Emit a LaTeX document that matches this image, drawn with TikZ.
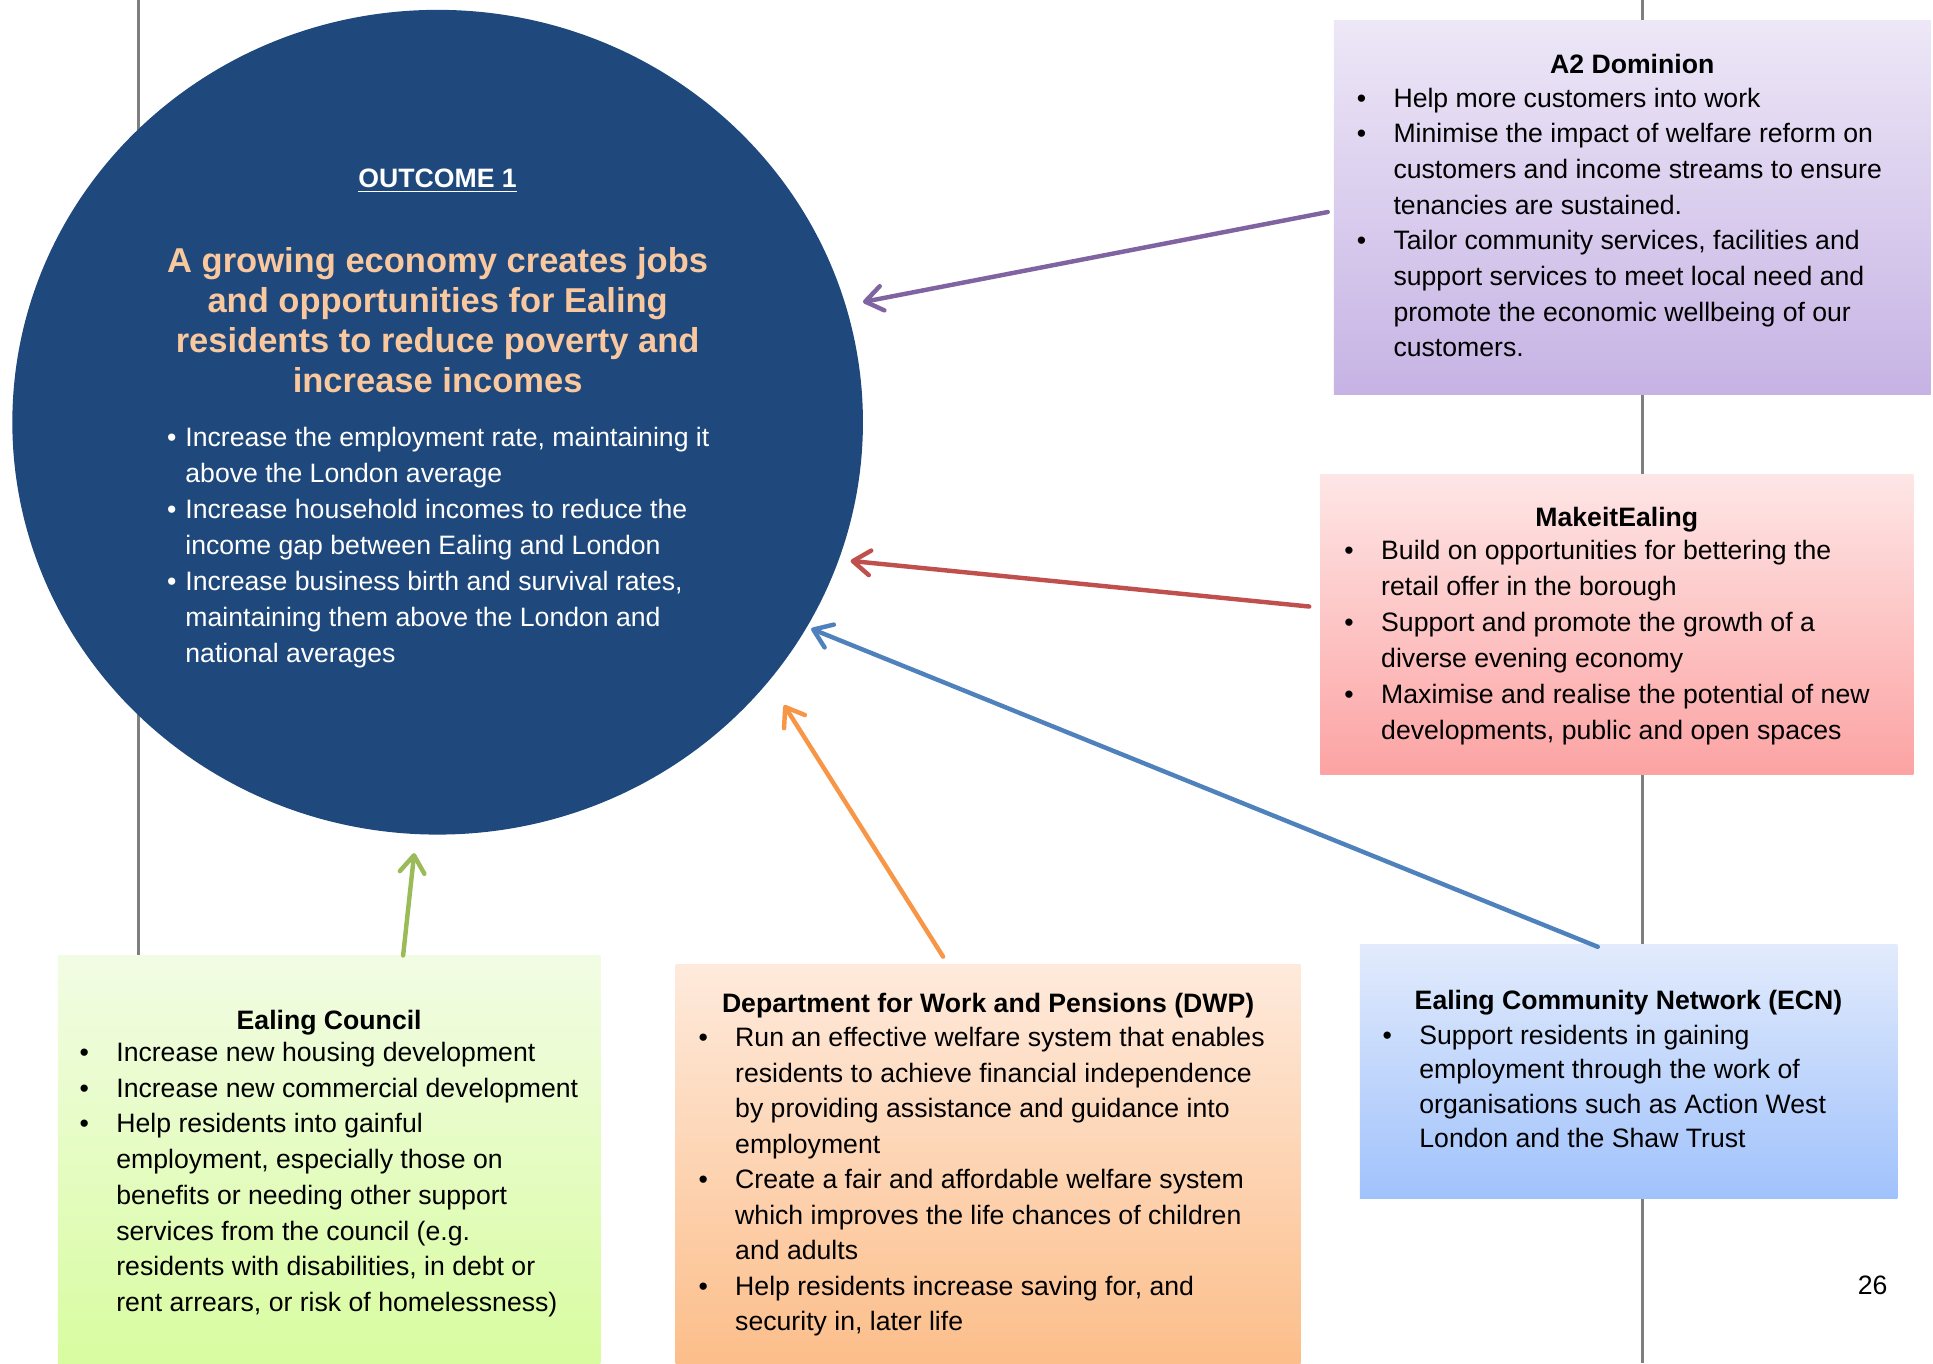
\documentclass[tikz,border=0pt]{standalone}
\usepackage{fontspec}
\setmainfont{Liberation Sans}
\usetikzlibrary{arrows.meta,shapes.geometric,fit}

\definecolor{circblue}{RGB}{31,73,125}
\definecolor{peach}{RGB}{250,200,158}
\definecolor{pagegray}{RGB}{127,127,127}
\definecolor{apurple}{RGB}{128,100,162}
\definecolor{ared}{RGB}{192,80,77}
\definecolor{ablue}{RGB}{79,129,189}
\definecolor{aorange}{RGB}{247,150,70}
\definecolor{agreen}{RGB}{155,187,89}
\definecolor{a2top}{RGB}{237,231,247}
\definecolor{a2bot}{RGB}{198,179,228}
\definecolor{mktop}{RGB}{254,230,230}
\definecolor{mkbot}{RGB}{252,163,163}
\definecolor{ectop}{RGB}{242,252,228}
\definecolor{ecbot}{RGB}{216,252,160}
\definecolor{dwtop}{RGB}{254,234,220}
\definecolor{dwbot}{RGB}{252,190,138}
\definecolor{cntop}{RGB}{226,235,252}
\definecolor{cnbot}{RGB}{160,194,252}

\newlength\hangw
\newcommand\bi[1]{\par\hangindent=\hangw\hangafter=1\noindent\makebox[\hangw][l]{\textbullet}#1}
% #1 hang indent, #2 baselineskip, #3 content
\newcommand\blist[3]{\vtop{\hsize=400pt\parindent=0pt\parskip=0pt\hangw=#1\fontsize{10.8pt}{#2}\selectfont #3}}

\tikzset{
  orgbox/.style={draw=none, inner sep=0pt, shading=axis},
  ttl/.style={anchor=base, inner sep=0pt, font=\fontsize{10.8pt}{13pt}\selectfont\bfseries},
  body/.style={anchor=base west, inner sep=0pt},
  arr/.style={line width=1.8pt, line cap=round, -{Straight Barb[length=7pt,width=10pt,round]}},
  pageline/.style={draw=pagegray, line width=1.2pt}
}

\begin{document}
\begin{tikzpicture}[x=0.5pt,y=-0.5pt]
\useasboundingbox (0,0) rectangle (1568,1106);

% page margin lines
\coordinate (lt) at (112.3,0);
\coordinate (lb) at (112.3,1106);
\coordinate (rt) at (1332.5,0);
\coordinate (rb) at (1332.5,1106);
\draw[pageline] (lt) -- (lb);
\draw[pageline] (rt) -- (rb);

% central outcome
\node[ellipse, fill=circblue, draw=none, inner sep=0pt, minimum width=345pt, minimum height=334.5pt] (outcome) at (355,342.5) {};
\node[ttl, text=white] (otitle) at (355,152) {\underline{OUTCOME 1}};
\node[anchor=base, inner sep=0pt, text=peach] (ohead) at (355,221)
  {\vtop{\hsize=300pt\parskip=0pt\parindent=0pt\centering\fontsize{14pt}{16.2pt}\selectfont\bfseries
  A growing economy creates jobs\\and opportunities for Ealing\\residents to reduce poverty and\\increase incomes}};
\node[body, text=white] (obody) at (135.2,362) {\blist{7.4pt}{14.6pt}{%
  \bi{Increase the employment rate, maintaining it\newline above the London average}
  \bi{Increase household incomes to reduce the\newline income gap between Ealing and London}
  \bi{Increase business birth and survival rates,\newline maintaining them above the London and\newline national averages}}};

% A2 Dominion
\node[orgbox, top color=a2top, bottom color=a2bot, fit={(1082,17) (1566,320)}] (a2) {};
\node[ttl] (a2t) at (1324,60) {A2 Dominion};
\node[body] (a2b) at (1100.2,87) {\blist{14.9pt}{14.45pt}{%
  \bi{Help more customers into work}
  \bi{Minimise the impact of welfare reform on\newline customers and income streams to ensure\newline tenancies are sustained.}
  \bi{Tailor community services, facilities and\newline support services to meet local need and\newline promote the economic wellbeing of our\newline customers.}}};

% MakeitEaling
\node[orgbox, top color=mktop, bottom color=mkbot, fit={(1071,385) (1552,628)}] (mk) {};
\node[ttl] (mkt) at (1311.5,427) {MakeitEaling};
\node[body] (mkb) at (1090.2,453.5) {\blist{14.9pt}{14.6pt}{%
  \bi{Build on opportunities for bettering the\newline retail offer in the borough}
  \bi{Support and promote the growth of a\newline diverse evening economy}
  \bi{Maximise and realise the potential of new\newline developments, public and open spaces}}};

% Ealing Community Network
\node[orgbox, top color=cntop, bottom color=cnbot, fit={(1103,766) (1539,972)}] (ecn) {};
\node[ttl] (ecnt) at (1321,819) {Ealing Community Network (ECN)};
\node[body] (ecnb) at (1121.2,847) {\blist{14.9pt}{14pt}{%
  \bi{Support residents in gaining\newline employment through the work of\newline organisations such as Action West\newline London and the Shaw Trust}}};

% Ealing Council
\node[orgbox, top color=ectop, bottom color=ecbot, fit={(47,775) (487,1106)}] (ec) {};
\node[ttl] (ect) at (267,835) {Ealing Council};
\node[body] (ecb) at (64.2,861) {\blist{14.9pt}{14.5pt}{%
  \bi{Increase new housing development}
  \bi{Increase new commercial development}
  \bi{Help residents into gainful\newline employment, especially those on\newline benefits or needing other support\newline services from the council (e.g.\newline residents with disabilities, in debt or\newline rent arrears, or risk of homelessness)}}};

% DWP
\node[orgbox, top color=dwtop, bottom color=dwbot, fit={(548,782) (1055,1106)}] (dwp) {};
\node[ttl] (dwpt) at (801.5,821) {Department for Work and Pensions (DWP)};
\node[body] (dwpb) at (566.2,849) {\blist{14.9pt}{14.4pt}{%
  \bi{Run an effective welfare system that enables\newline residents to achieve financial independence\newline by providing assistance and guidance into\newline employment}
  \bi{Create a fair and affordable welfare system\newline which improves the life chances of children\newline and adults}
  \bi{Help residents increase saving for, and\newline security in, later life}}};

% page number
\node[anchor=base, inner sep=0pt, font=\fontsize{10.8pt}{13pt}\selectfont] (pg) at (1519,1050) {26};

% connectors
\coordinate (a2s) at (1077,172);
\coordinate (a2e) at (700,245);
\coordinate (mks) at (1062,492);
\coordinate (mke) at (690,455);
\coordinate (ecns) at (1296,768);
\coordinate (ecne) at (658,510);
\coordinate (dwps) at (765,776);
\coordinate (dwpe) at (636,572);
\coordinate (ecs) at (327,775);
\coordinate (ece) at (336,692);
\draw[arr, draw=apurple] (a2s) -- (a2e);
\draw[arr, draw=ared] (mks) -- (mke);
\draw[arr, draw=ablue] (ecns) -- (ecne);
\draw[arr, draw=aorange] (dwps) -- (dwpe);
\draw[arr, draw=agreen] (ecs) -- (ece);
\end{tikzpicture}
\end{document}
